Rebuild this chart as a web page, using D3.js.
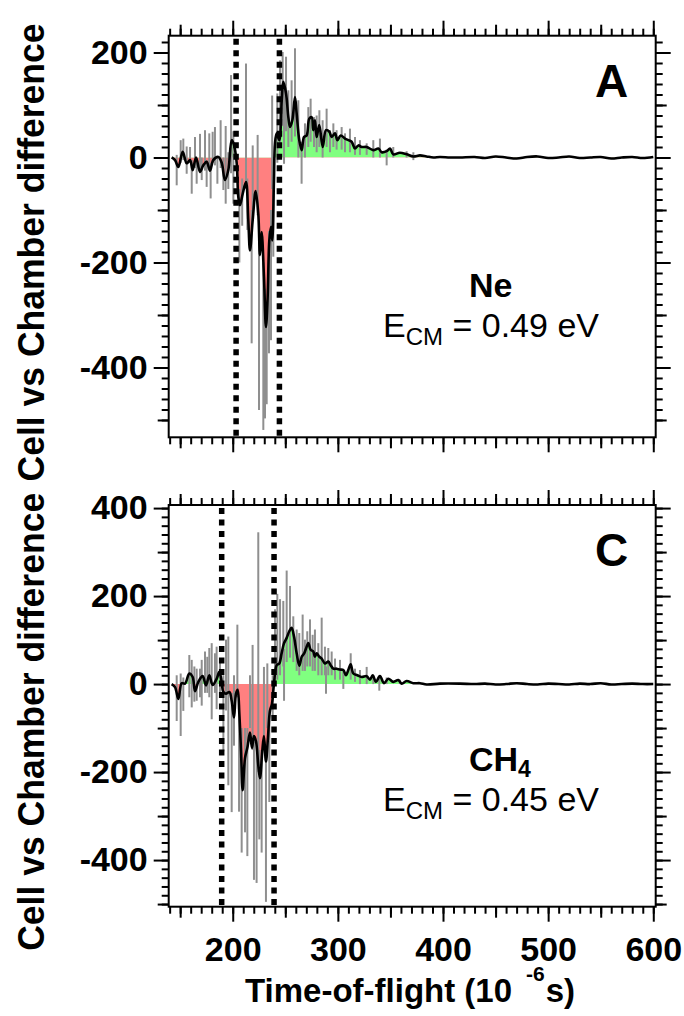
<!DOCTYPE html>
<html>
<head>
<meta charset="utf-8">
<script src="https://cdnjs.cloudflare.com/ajax/libs/d3/7.8.5/d3.min.js"></script>
<style>
  body { margin: 0; background: #fff; }
  svg { display: block; }
  text { font-family: "Liberation Sans", Arial, sans-serif; }
</style>
</head>
<body>
<div id="chart"></div>
<script>
// ---- Panel A (Ne): smoothed difference (black line) ----
const tofA = [141.9, 145.1, 148.3, 152.4, 156.2, 159.4, 161.9, 165.1, 168.9, 172.0, 175.2, 178.4, 181.5, 186.3,
  189.5, 192.6, 195.8, 199.0, 201.2, 203.8, 205.3, 206.9, 209.5, 212.6, 214.8, 216.4, 219.0, 221.8, 224.3, 225.9,
  227.5, 229.7, 231.6, 233.2, 234.8, 236.4, 237.6, 239.2, 240.2, 241.8, 244.3, 246.6, 248.1, 250.7, 252.9, 254.5,
  256.7, 259.2, 260.8, 263.3, 265.6, 267.8, 270.3, 272.8, 275.1, 276.6, 278.2, 279.8, 282.3, 285.6, 288.7, 291.9,
  294.1, 297.3, 299.5, 302.7, 306.8, 310.0, 313.1, 316.3, 319.5, 322.6, 327.4, 333.7, 338.5, 341.7, 346.4, 349.6,
  352.7, 359.0, 365.4, 371.8, 378.1, 384.4, 390.8, 397.1, 406.6, 416.1, 430, 440, 450, 460, 470, 480, 490, 500,
  510, 520, 530, 540, 550, 560, 570, 580, 590, 600]
const diffA = [0, -5, -18, 11, -11, -5, -24, 0, -27, -15, -8, -25, -5, 1,
  -10, -43, -24, 33, 24, -11, -75, -91, -69, -47, -119, -177, -119, -64, -107, -186,
  -142, -227, -323, -266, -158, -132, -158, -43, 27, 46, 33, 109, 144, 122, 77, 58,
  71, 115, 84, 33, 14, 39, 42, 74, 77, 52, 71, 39, 62, 20, 52, 49,
  39, 46, 33, 42, 36, 33, 30, 17, 23, 20, 20, 14, 17, 10, 12, 17,
  6, 9, 6, 2, 4, 2, 0, 1, 0, 0, 1, -1, 2, 0, -2, 1, 2, -1,
  0, 2, -1, 0, 1, -2, 0, 1, -1, 1]

// ---- Panel A: raw difference spread (gray bars) ----
const rawTofA = [146.7, 150.5, 153.0, 156.2, 159.4, 161.0, 164.1, 165.7, 168.9, 170.5, 173.6, 175.2, 177.7, 179.0,
  180.9, 183.1, 185.4, 188.5, 191.1, 193.3, 195.8, 198.4, 200.6, 206.3, 209.0, 212.6, 213.9, 218.0, 219.0, 223.7,
  225.0, 229.1, 230.7, 232.3, 234.5, 236.4, 237.5, 238.6, 242.4, 245.0, 247.5, 248.8, 250.7, 252.9, 256.0, 259.2,
  262.4, 265.5, 268.7, 271.9, 274.1, 277.3, 279.8, 282.4, 285.5, 289.3, 292.5, 295.7, 298.8, 303.6, 306.8, 311.5,
  316.3, 321.0, 327.4, 333.7, 340.0, 346.4, 352.7, 365.4, 371.8]
const rawLoA = [-53, -10, -5, -31, -10, -69, -20, -50, -30, -43, -25, -56, -20, -78,
  -10, -15, -50, -20, -62, -88, -60, -30, -88, -200, -130, -60, -138, -354, -120, -110,
  -481, -519, -497, -470, -373, -348, -60, -189, -10, 20, 60, -12, 50, 20, 30, 40,
  0, -50, 0, 20, 30, 20, 10, 20, 0, 20, 10, 20, 15, 15, 10, 10,
  5, 5, 5, 0, 0, -15, 0, 0, -5]
const rawHiA = [5, 33, 36, 21, 20, -5, 39, 0, 45, 0, 52, -5, 46, -10,
  49, 58, 0, 71, 0, 60, 10, 157, 50, -60, -40, 179, -40, -100, 23, 43,
  -150, -200, -250, -280, -140, -100, 118, 0, 122, 185, 201, 130, 192, 128, 147, 208,
  109, 30, 65, 96, 112, 77, 80, 90, 71, 93, 52, 65, 52, 58, 46, 55,
  39, 33, 27, 33, 36, 15, 20, 12, 10]

// ---- Panel C (CH4): smoothed difference ----
const tofC = [141.9, 145.1, 148.3, 151.4, 154.6, 158.7, 161.9, 164.1, 167.3, 171.4, 174.6, 177.7, 180.9, 184.7,
  187.3, 189.5, 191.1, 193.6, 196.8, 199.0, 201.2, 203.1, 204.7, 206.3, 207.9, 209.4, 211.7, 213.9, 216.4, 218.3,
  220.2, 222.1, 224.3, 225.9, 228.1, 229.7, 231.6, 233.5, 235.4, 237.3, 239.2, 241.8, 244.3, 246.5, 248.8, 251.3,
  253.8, 256.0, 258.3, 260.8, 263.3, 265.6, 267.8, 270.3, 271.9, 274.1, 276.6, 278.2, 279.8, 282.4, 284.6, 287.7,
  290.9, 293.1, 295.7, 298.8, 302.0, 305.2, 307.7, 309.9, 312.2, 314.7, 318.5, 322.6, 327.4, 330.5, 333.1, 336.2,
  340.0, 343.9, 348.0, 352.7, 357.5, 360.7, 365.4, 371.8, 378.1, 384.4, 397.1, 416.1, 430, 440, 450, 460, 470,
  480, 490, 500, 510, 520, 530, 540, 550, 560, 570, 580, 590, 600]
const diffC = [0, -7, -34, 2, 1, 24, 16, -16, 5, 18, -3, 20, -2, 12,
  28, 5, -18, -22, -18, -38, -76, -22, -13, -68, -153, -241, -168, -145, -110, -145,
  -118, -130, -184, -214, -153, -118, -176, -122, -61, -45, 0, 43, 47, 70, 93, 105,
  120, 128, 108, 70, 42, 62, 69, 85, 93, 78, 74, 62, 70, 62, 58, 47,
  51, 43, 35, 35, 33, 32, 20, 32, 45, 24, 20, 16, 18, 10, 20, 5,
  18, 2, 12, 5, 9, 1, 7, 2, 2, -1, 1, 1, 0, 1, -1, 0, 2,
  0, -1, 1, 0, -1, 1, 0, 2, -1, 0, 1, 0, 0]

// ---- Panel C: raw difference spread ----
const rawTofC = [146.7, 150.5, 153.0, 158.7, 161.0, 163.5, 165.7, 168.9, 170.5, 173.6, 175.8, 177.7, 180.0, 183.1,
  184.7, 187.9, 191.1, 193.6, 195.8, 199.0, 201.2, 204.4, 206.0, 208.5, 211.7, 213.9, 216.4, 218.9, 220.2, 222.7,
  224.3, 225.3, 227.5, 229.7, 231.6, 232.9, 234.8, 238.0, 240.2, 242.4, 245.0, 248.1, 248.8, 251.3, 254.5, 257.6,
  260.8, 263.3, 266.5, 268.7, 270.9, 273.5, 276.0, 278.2, 281.4, 284.6, 287.7, 288.7, 290.9, 294.1, 297.3, 302.0,
  305.2, 312.2, 316.3, 321.0, 327.4, 333.7, 339.4, 346.4, 359.0]
const rawLoC = [-84, -118, -61, -30, -53, -40, -38, -30, -49, -20, -20, -30, -80, -20,
  -57, -30, -153, -60, -230, -291, -140, -30, -290, -383, -337, -391, -100, -150, -445, -452,
  -200, -353, -383, -120, -495, -100, -268, -76, 0, 10, 20, 40, -38, 50, 60, 50,
  30, 20, 30, 30, 40, 40, 30, 30, 20, 20, 20, -22, 20, 20, 10, 10,
  -11, 10, 5, 0, 0, 0, -15, 0, 0]
const rawHiC = [20, 24, 15, 66, 55, 40, 35, 35, 55, 74, 62, 82, 93, 70,
  85, 55, 20, 101, 108, -20, 20, 135, -50, -100, -100, -100, 20, 89, -130, -130,
  345, -150, -150, 39, -150, 47, -60, 20, 170, 205, 193, 189, 80, 258, 223, 154,
  124, 116, 158, 101, 120, 147, 112, 124, 93, 151, 85, 40, 82, 74, 58, 55,
  30, 70, 35, 32, 39, 20, 20, 15, 10]

// vertical dashed markers (time-of-flight)
const dashA = [203.2, 244.4]
const dashC = [189.5, 239.3]

// axis ticks
const xMajor = [200, 300, 400, 500, 600]
const xMedium = [150, 250, 350, 450, 550]
const yMajorA = [-400, -200, 0, 200]
const yMediumA = [-500, -300, -100, 100]
const yMajorC = [-400, -200, 0, 200, 400]
const yMediumC = [-500, -300, -100, 100, 300]

const width = 684, height = 1016
const plot = {left: 168.7, right: 655.7}
const colours = {pos: '#80ff80', neg: '#ff8080', raw: '#8f8f8f', line: '#000'}

const svg = d3.select('#chart').append('svg')
  .attr('width', width)
  .attr('height', height)

const x = d3.scaleLinear().domain([139.1, 602.3]).range([plot.left, plot.right])

const panels = [
  {id: 'A', top: 35.7, bottom: 437.3, yDomain: [-533, 232], tof: tofA, diff: diffA,
    rawTof: rawTofA, rawLo: rawLoA, rawHi: rawHiA, dash: dashA, yMajor: yMajorA, yMedium: yMediumA,
    gas: ['Ne', ''], energy: '0.49', xLabels: false, gasY: 261, enY: 301},
  {id: 'C', top: 505, bottom: 906.7, yDomain: [-506, 407], tof: tofC, diff: diffC,
    rawTof: rawTofC, rawLo: rawLoC, rawHi: rawHiC, dash: dashC, yMajor: yMajorC, yMedium: yMediumC,
    gas: ['CH', '4'], energy: '0.45', xLabels: true, gasY: 266, enY: 306}
]

const styleAxis = g => {
  g.select('.domain').remove()
  g.selectAll('.tick line').attr('stroke', '#000').attr('stroke-width', 2)
  g.selectAll('.tick text')
    .attr('fill', '#000')
    .style('font-size', '34px')
    .style('font-weight', 'bold')
}

const drawPanel = p => {
  const y = d3.scaleLinear().domain(p.yDomain).range([p.bottom, p.top])
  const g = svg.append('g')
  const pts = d3.zip(p.tof, p.diff)

  // clip regions above / below zero
  const defs = svg.append('defs')
  defs.append('clipPath').attr('id', `pos${p.id}`)
    .append('rect').attr('x', plot.left).attr('y', p.top)
    .attr('width', plot.right - plot.left).attr('height', y(0) - p.top)
  defs.append('clipPath').attr('id', `neg${p.id}`)
    .append('rect').attr('x', plot.left).attr('y', y(0))
    .attr('width', plot.right - plot.left).attr('height', p.bottom - y(0))

  const curve = d3.curveCatmullRom.alpha(0.5)
  const area = d3.area().x(d => x(d[0])).y0(y(0)).y1(d => y(d[1])).curve(curve)
  const line = d3.line().x(d => x(d[0])).y(d => y(d[1])).curve(curve)

  g.append('path').datum(pts).attr('d', area)
    .attr('fill', colours.pos).attr('clip-path', `url(#pos${p.id})`)
  g.append('path').datum(pts).attr('d', area)
    .attr('fill', colours.neg).attr('clip-path', `url(#neg${p.id})`)

  // Raw spread
  g.selectAll('line.raw')
    .data(d3.zip(p.rawTof, p.rawLo, p.rawHi))
    .enter()
    .append('line')
    .attr('class', 'raw')
    .attr('x1', d => x(d[0]))
    .attr('x2', d => x(d[0]))
    .attr('y1', d => y(d[1]))
    .attr('y2', d => y(d[2]))
    .attr('stroke', colours.raw)
    .attr('stroke-width', 2)

  // Smoothed line
  g.append('path').datum(pts).attr('d', line)
    .attr('fill', 'none')
    .attr('stroke', colours.line)
    .attr('stroke-width', 2.6)
    .attr('stroke-linejoin', 'round')

  // Dashed markers
  g.selectAll('line.dash')
    .data(p.dash)
    .enter()
    .append('line')
    .attr('class', 'dash')
    .attr('x1', d => x(d)).attr('x2', d => x(d))
    .attr('y1', p.top + 3).attr('y2', p.bottom)
    .attr('stroke', '#000')
    .attr('stroke-width', 5.5)
    .attr('stroke-dasharray', '6,5.5')

  // Frame
  g.append('rect')
    .attr('x', plot.left).attr('y', p.top)
    .attr('width', plot.right - plot.left).attr('height', p.bottom - p.top)
    .attr('fill', 'none').attr('stroke', '#000').attr('stroke-width', 2)

  // Axes: minor, medium, major ticks on all four sides
  const yMinor = d3.range(-500, p.yDomain[1], 20)
  const xMinor = d3.range(140, 601, 10)
  const sides = [
    [d3.axisLeft, y, `translate(${plot.left},0)`, true],
    [d3.axisRight, y, `translate(${plot.right},0)`, false],
    [d3.axisTop, x, `translate(0,${p.top})`, false],
    [d3.axisBottom, x, `translate(0,${p.bottom})`, p.xLabels]
  ]
  sides.forEach(([axisFn, scale, tr, labels]) => {
    const isY = scale === y
    const minor = isY ? yMinor : xMinor
    const medium = isY ? p.yMedium : xMedium
    const major = isY ? p.yMajor : xMajor
    g.append('g').attr('transform', tr)
      .call(axisFn(scale).tickValues(minor).tickSize(7).tickFormat(''))
      .call(styleAxis)
    g.append('g').attr('transform', tr)
      .call(axisFn(scale).tickValues(medium).tickSize(11).tickFormat(''))
      .call(styleAxis)
    g.append('g').attr('transform', tr)
      .call(axisFn(scale).tickValues(major).tickSize(15)
        .tickPadding(isY ? 6 : 15)
        .tickFormat(labels ? d => String(d) : ''))
      .call(styleAxis)
  })

  // Panel letter
  g.append('text')
    .attr('x', 595).attr('y', p.top + 61)
    .style('font-size', '46px').style('font-weight', 'bold')
    .text(p.id)

  // Gas and collision energy label (one text block, two lines)
  const lbl = g.append('text').style('font-size', '34px')
  lbl.append('tspan')
    .attr('x', 469).attr('y', p.top + p.gasY)
    .style('font-weight', 'bold')
    .text(p.gas[0])
  if (p.gas[1]) {
    lbl.append('tspan').attr('dy', 6).style('font-size', '23px').style('font-weight', 'bold').text(p.gas[1])
  }
  lbl.append('tspan').attr('x', 383).attr('y', p.top + p.enY).text('E')
  lbl.append('tspan').attr('dy', 8).style('font-size', '24px').text('CM')
  lbl.append('tspan').attr('dy', -8).text(` = ${p.energy} eV`)

  // Y title
  svg.append('text')
    .attr('transform', `translate(44,${(p.top + p.bottom) / 2 + 16}) rotate(-90)`)
    .attr('text-anchor', 'middle')
    .attr('textLength', 458)
    .attr('lengthAdjust', 'spacingAndGlyphs')
    .style('font-size', '37px').style('font-weight', 'bold')
    .text('Cell vs Chamber difference')
}

panels.forEach(drawPanel)

// X title with superscript exponent
const xt = svg.append('text')
  .attr('x', 245).attr('y', 1002)
  .style('font-size', '33px').style('font-weight', 'bold')
xt.append('tspan').text('Time-of-flight (10')
xt.append('tspan').attr('dx', 14).attr('dy', -21).style('font-size', '21px').text('-6')
xt.append('tspan').attr('dx', 1).attr('dy', 21).text('s)')
</script>
</body>
</html>
